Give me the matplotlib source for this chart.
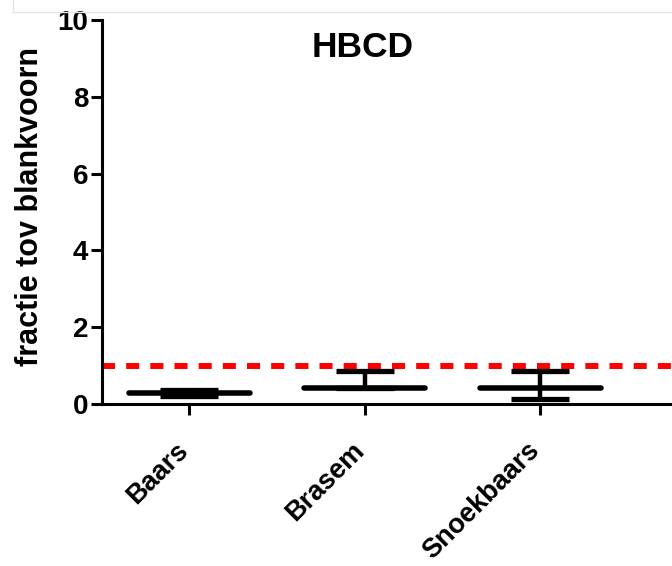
import matplotlib
matplotlib.use("Agg")
import matplotlib.pyplot as plt
from matplotlib.lines import Line2D

# ── data ─────────────────────────────────────────────────────────────────────
groups = ["Baars", "Brasem", "Snoekbaars"]
means = [0.29, 0.42, 0.42]
err_low = [0.07, 0.0, 0.29]
err_high = [0.09, 0.45, 0.45]
reference = 1.0

plt.rcParams["font.family"] = ["Liberation Sans", "DejaVu Sans"]
plt.rcParams["font.weight"] = "bold"

fig = plt.figure(figsize=(6.72, 5.66), dpi=100)
ax = fig.add_axes([0.152, 0.286, 0.848, 0.679])

# mean lines
for i, m in enumerate(means):
    ax.plot([i - 0.345, i + 0.345], [m, m], color="black", lw=4.0,
            solid_capstyle="round", zorder=3)

# error bars
ax.errorbar(range(len(groups)), means, yerr=[err_low, err_high], fmt="none",
            ecolor="black", elinewidth=3.2, capsize=21, capthick=3.8, zorder=3)

# reference line
ax.axhline(reference, color="#ff0000", lw=4.3,
           linestyle=(0, (9.4 / 4.3, 8.0 / 4.3)), zorder=2)

ax.set_xlim(-0.496, 2.75)
ax.set_ylim(0, 10)
ax.set_yticks([0, 2, 4, 6, 8, 10])
ax.set_xticks(range(len(groups)))
ax.set_xticklabels([])

# rotated category labels, end of the word sits at the tick
for i, name in enumerate(groups):
    ax.annotate(name, xy=(i, 0), xycoords=("data", "axes fraction"),
                xytext=(-10, -24), textcoords="offset points",
                rotation=45, rotation_mode="anchor", ha="right", va="top",
                fontsize=19.5, fontweight="bold", annotation_clip=False)

for side in ["top", "right"]:
    ax.spines[side].set_visible(False)
for side in ["left", "bottom"]:
    ax.spines[side].set_linewidth(2.2)

ax.tick_params(axis="y", direction="out", length=8, width=2.2, pad=2,
               labelsize=20)
ax.tick_params(axis="x", direction="out", length=8, width=2.2)
for lbl in ax.get_yticklabels():
    lbl.set_fontweight("bold")

ax.set_ylabel("fractie tov blankvoorn", fontsize=22, fontweight="bold")
ax.yaxis.set_label_coords(-0.1, 0.513)
ax.text(0.458, 0.97, "HBCD", transform=ax.transAxes, ha="center", va="top",
        fontsize=25.5, fontweight="bold")

# faint frame line from the source screenshot
fig.add_artist(Line2D([0.019, 1.0], [0.979, 0.979], color="#dfe6ec", lw=1))
fig.add_artist(Line2D([0.019, 0.019], [0.979, 1.0], color="#dfe6ec", lw=1))

fig.savefig("out.png", dpi=100)
print("Saved: out.png")
